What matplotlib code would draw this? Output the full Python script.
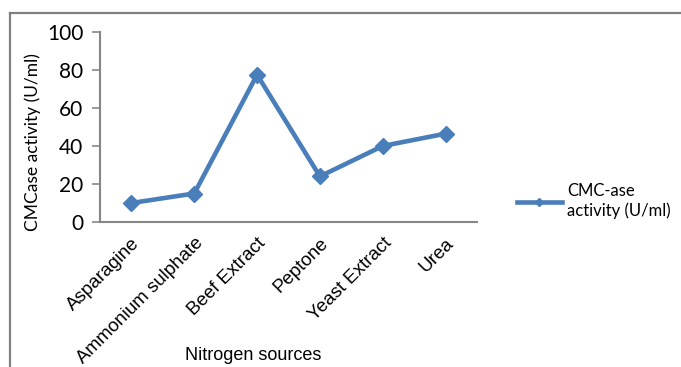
import matplotlib.pyplot as plt
from matplotlib.lines import Line2D

# nitrogen sources and CMCase activity (U/ml)
sources = ['Asparagine', 'Ammonium sulphate', 'Beef Extract', 'Peptone',
           'Yeast Extract', 'Urea']
activity = [10, 15, 77.5, 24, 40, 46.5]
yticks = [0, 20, 40, 60, 80, 100]

blue = '#4A7EBB'
grey = '#868686'

fig = plt.figure(figsize=(6.81, 3.67), dpi=100)
ax = fig.add_axes([100/681, 1 - 222/367, 377/681, 190/367])

x = list(range(len(sources)))
ax.plot(x, activity, color=blue, lw=3.3, marker='D', markersize=8,
        label='CMC-ase\nactivity (U/ml)')

ax.set_xlim(-0.5, len(sources) - 0.5)
ax.set_ylim(0, 100)
ax.set_yticks(yticks)
ax.set_yticklabels([str(v) for v in yticks], family='Lato', fontsize=15)
ax.set_xticks(x)
ax.set_xticklabels(sources, rotation=45, ha='right', rotation_mode='anchor',
                   family='Liberation Sans', fontsize=13.5)
ax.tick_params(axis='x', length=0, pad=9)
ax.tick_params(axis='y', length=6, width=1.2, color=grey, pad=6)

for s in ['top', 'right']:
    ax.spines[s].set_visible(False)
for s in ['left', 'bottom']:
    ax.spines[s].set_color(grey)
    ax.spines[s].set_linewidth(1.5)

fig.text(33/681, 1 - 142/367, 'CMCase activity (U/ml)', rotation=90,
         ha='center', va='center', family='Lato', fontsize=12.5)
fig.text(253/681, 1 - 355/367, 'Nitrogen sources', ha='center', va='center',
         family='Liberation Sans', fontsize=13)

ax.legend(loc='center left', bbox_to_anchor=(502/681, 1 - 201/367),
          bbox_transform=fig.transFigure, frameon=False, handlelength=2.7,
          handletextpad=0.3, markerscale=0.5,
          prop={'family': 'Lato', 'size': 12})

# outer frame, only top and left edges show
fig.add_artist(Line2D([10/681, 10/681], [0, 1 - 13/367], color='#808080',
                      lw=1.6, transform=fig.transFigure))
fig.add_artist(Line2D([10/681, 1], [1 - 13/367, 1 - 13/367], color='#808080',
                      lw=1.6, transform=fig.transFigure))

fig.savefig('out.png', dpi=100)
